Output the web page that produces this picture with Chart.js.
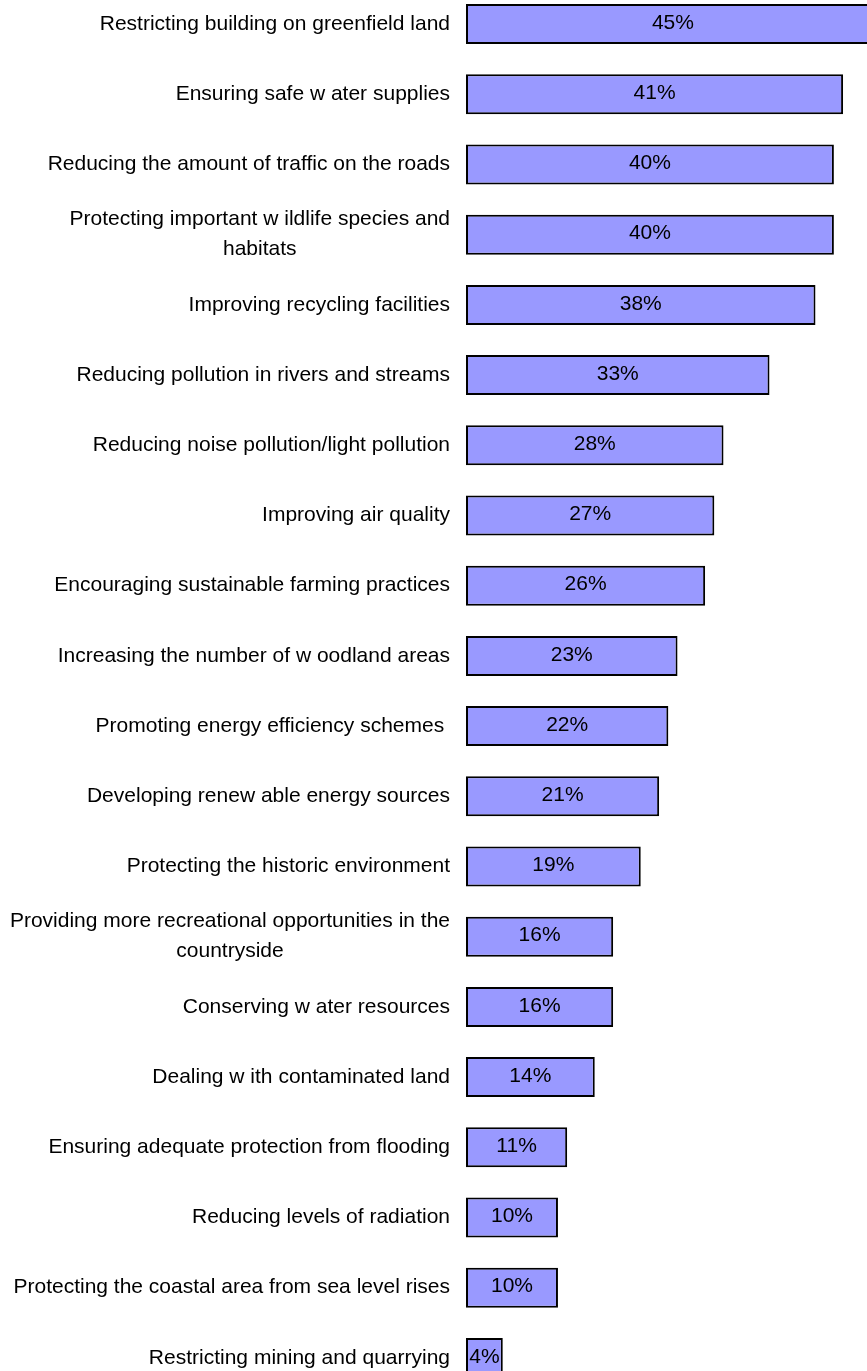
<!DOCTYPE html>
<html>
<head>
<meta charset="utf-8">
<title>Environmental priorities</title>
<script src="https://cdn.jsdelivr.net/npm/chart.js@4"></script>
<style>
  html, body { margin: 0; padding: 0; background: #fff; overflow: hidden; }
  #wrap { position: relative; width: 867px; height: 1371px; overflow: hidden; }
  #chart { position: absolute; left: 0; top: -11px; }
</style>
</head>
<body>
<div id="wrap"><canvas id="chart" width="867" height="1404"></canvas></div>
<script>
// ── DATA ────────────────────────────────────────────────────────────
var issues = [
    "Restricting building on greenfield land",
    "Ensuring safe w ater supplies",
    "Reducing the amount of traffic on the roads",
    ["Protecting important w ildlife species and", "habitats"],
    "Improving recycling facilities",
    "Reducing pollution in rivers and streams",
    "Reducing noise pollution/light pollution",
    "Improving air quality",
    "Encouraging sustainable farming practices",
    "Increasing the number of w oodland areas",
    "Promoting energy efficiency schemes ",
    "Developing renew able energy sources",
    "Protecting the historic environment",
    ["Providing more recreational opportunities in the", "countryside"],
    "Conserving w ater resources",
    "Dealing w ith contaminated land",
    "Ensuring adequate protection from flooding",
    "Reducing levels of radiation",
    "Protecting the coastal area from sea level rises",
    "Restricting mining and quarrying"
];
var percents = [45, 41, 40, 40, 38, 33, 28, 27, 26, 23, 22, 21, 19, 16, 16, 14, 11, 10, 10, 4];

// ── STYLE ───────────────────────────────────────────────────────────
var FONT = "21px 'Liberation Sans', Arial, sans-serif";
var LABEL_RIGHT = 450;   // right edge of category text
var LINE_H = 30;

// category names to the left of the bars, multi-line ones centred per line
var categoryLabels = {
    id: "categoryLabels",
    afterDraw: function (chart) {
        var ctx = chart.ctx;
        var y = chart.scales.y;
        ctx.save();
        ctx.font = FONT;
        ctx.fillStyle = "#000";
        ctx.textBaseline = "middle";
        ctx.textAlign = "center";
        for (var i = 0; i < issues.length; i++) {
            var lines = Array.isArray(issues[i]) ? issues[i] : [issues[i]];
            var w = 0;
            for (var j = 0; j < lines.length; j++) w = Math.max(w, ctx.measureText(lines[j]).width);
            var cx = LABEL_RIGHT - w / 2;
            var cy = y.getPixelForValue(i) - (lines.length - 1) * LINE_H / 2;
            for (var k = 0; k < lines.length; k++) ctx.fillText(lines[k], cx, cy + k * LINE_H);
        }
        ctx.restore();
    }
};

// percentage text in the middle of each bar
var barValues = {
    id: "barValues",
    afterDatasetsDraw: function (chart) {
        var ctx = chart.ctx;
        var meta = chart.getDatasetMeta(0);
        ctx.save();
        ctx.font = FONT;
        ctx.fillStyle = "#000";
        ctx.textAlign = "center";
        ctx.textBaseline = "middle";
        for (var i = 0; i < meta.data.length; i++) {
            var bar = meta.data[i];
            ctx.fillText(percents[i] + "%", (bar.base + bar.x) / 2, bar.y - 1);
        }
        ctx.restore();
    }
};

new Chart(document.getElementById("chart"), {
    type: "bar",
    data: {
        labels: issues,
        datasets: [{
            data: percents,
            backgroundColor: "#9999ff",
            borderColor: "#000",
            borderWidth: 2,
            borderSkipped: false,
            barPercentage: 0.57,
            categoryPercentage: 1
        }]
    },
    options: {
        indexAxis: "y",
        responsive: false,
        devicePixelRatio: 1,
        animation: false,
        layout: { padding: 0 },
        plugins: { legend: { display: false }, tooltip: { enabled: false } },
        scales: {
            x: { display: false, min: 0, max: 43.6 },
            y: {
                grid: { display: false },
                border: { display: false },
                ticks: { display: false },
                afterFit: function (scale) { scale.width = 466; }
            }
        }
    },
    plugins: [barValues, categoryLabels]
});
</script>
</body>
</html>
